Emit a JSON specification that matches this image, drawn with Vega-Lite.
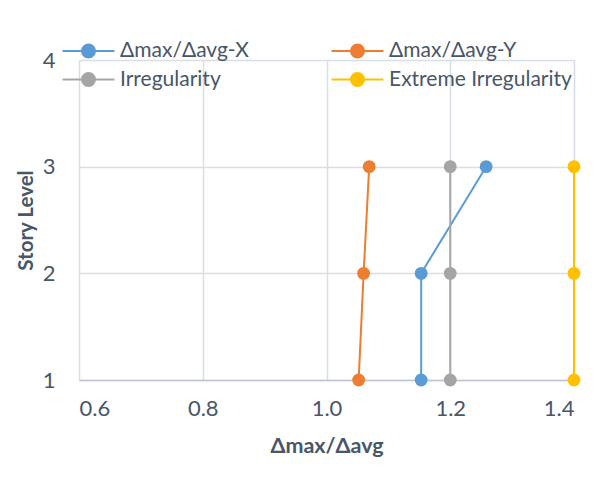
{
  "$schema": "https://vega.github.io/schema/vega-lite/v6.json",
  "width": 495,
  "height": 320,
  "autosize": "none",
  "padding": {"left": 79, "top": 60, "right": 35, "bottom": 117},
  "background": "white",
  "config": {
    "font": "Lato",
    "view": {"stroke": null},
    "axis": {
      "labelFont": "Lato", "titleFont": "Lato",
      "labelColor": "#485668", "titleColor": "#485668",
      "labelFontSize": 22, "titleFontSize": 21.5, "titleFontWeight": "bold",
      "gridColor": "#D9DEE6", "gridWidth": 1.5, "ticks": false
    }
  },
  "data": {"values": [
    {"series": "Δmax/Δavg-X", "ratio": 1.153, "level": 1},
    {"series": "Δmax/Δavg-X", "ratio": 1.153, "level": 2},
    {"series": "Δmax/Δavg-X", "ratio": 1.258, "level": 3},
    {"series": "Δmax/Δavg-Y", "ratio": 1.052, "level": 1},
    {"series": "Δmax/Δavg-Y", "ratio": 1.060, "level": 2},
    {"series": "Δmax/Δavg-Y", "ratio": 1.069, "level": 3},
    {"series": "Irregularity", "ratio": 1.2, "level": 1},
    {"series": "Irregularity", "ratio": 1.2, "level": 2},
    {"series": "Irregularity", "ratio": 1.2, "level": 3},
    {"series": "Extreme Irregularity", "ratio": 1.4, "level": 1},
    {"series": "Extreme Irregularity", "ratio": 1.4, "level": 2},
    {"series": "Extreme Irregularity", "ratio": 1.4, "level": 3}
  ]},
  "encoding": {
    "x": {"field": "ratio", "type": "quantitative",
      "scale": {"domain": [0.6, 1.4], "nice": false, "zero": false},
      "axis": {"values": [0.6, 0.8, 1.0, 1.2, 1.4], "format": ".1f", "title": "Δmax/Δavg",
        "labelPadding": 18, "titlePadding": 16, "domainColor": "#BFC5CE", "domainWidth": 1.5}},
    "y": {"field": "level", "type": "quantitative",
      "scale": {"domain": [1, 4], "nice": false, "zero": false},
      "axis": {"values": [1, 2, 3, 4], "title": "Story Level", "domain": false,
        "titleFontSize": 20.5, "labelPadding": 24, "titlePadding": 6}},
    "color": {"field": "series", "type": "nominal",
      "scale": {"domain": ["Δmax/Δavg-X", "Δmax/Δavg-Y", "Irregularity", "Extreme Irregularity"],
        "range": ["#5B9BD5", "#ED7D31", "#A5A5A5", "#FFC000"]}}
  },
  "layer": [
    {
      "mark": {"type": "line", "strokeWidth": 2, "clip": false},
      "encoding": {"order": {"field": "level", "type": "quantitative"}}
    },
    {
      "mark": {"type": "circle", "size": 165, "opacity": 1, "clip": false},
      "encoding": {
        "color": {"field": "series", "type": "nominal",
          "legend": {
            "orient": "none", "legendX": -1, "legendY": -20,
            "direction": "horizontal",
            "columns": 2, "columnPadding": 78, "rowPadding": 6,
            "title": null, "padding": 0,
            "symbolType": "M-3.71,0L3.71,0M-0.93,0A0.93,0.93,0,1,0,0.93,0A0.93,0.93,0,1,0,-0.93,0Z",
            "symbolSize": 196, "symbolStrokeWidth": 2, "symbolOpacity": 1,
            "labelFont": "Lato", "labelFontSize": 21, "labelColor": "#485668", "labelOffset": 21,
            "labelLimit": 300,
            "encode": {"symbols": {"update": {
              "fill": {"scale": "color", "field": "value"},
              "stroke": {"scale": "color", "field": "value"}
            }}}
          }}
      }
    }
  ]
}
